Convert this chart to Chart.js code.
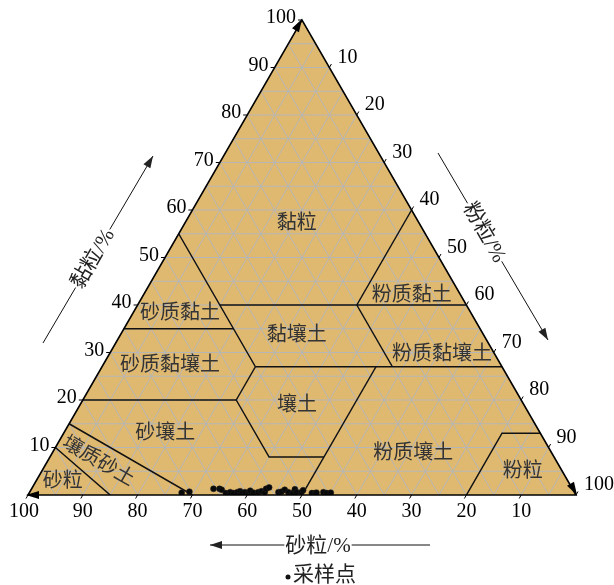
<!DOCTYPE html>
<html>
<head>
<meta charset="utf-8">
<script src="https://cdn.jsdelivr.net/npm/chart.js@4/dist/chart.umd.min.js"></script>
<style>
  html, body { margin: 0; padding: 0; background: #fff; }
  #wrap { width: 614px; height: 585px; }
</style>
</head>
<body>
<div id="wrap"><canvas id="c"></canvas></div>
<script>
// Soil texture triangle: clay on the left edge, silt on the right edge, sand along the base.
// Every composition is [sand, silt, clay] in percent.

const tickValues = [10, 20, 30, 40, 50, 60, 70, 80, 90, 100];

// Sample points (percent)
const sampleSand = [71.7, 70.2, 65.5, 64.4, 64.1, 63.7, 62.8, 62.3, 61.5, 60.9, 60.8, 60.1, 59.5, 59.0, 58.6, 57.7, 57.0, 56.5, 55.9, 55.2, 54.0, 53.4, 52.6, 52.2, 51.5, 50.7, 50.7, 49.8, 49.3, 48.0, 47.4, 47.1, 45.8, 45.3, 44.5];
const sampleSilt = [27.8, 29.1, 33.2, 34.3, 34.8, 35.9, 36.6, 37.3, 37.9, 38.3, 38.8, 39.3, 40.0, 40.1, 40.9, 41.7, 42.2, 42.9, 42.8, 43.2, 45.4, 45.9, 46.3, 47.2, 48.1, 48.1, 48.7, 49.6, 49.7, 51.6, 52.2, 52.4, 53.6, 54.3, 55.0];
const sampleClay = [0.5, 0.7, 1.3, 1.3, 1.1, 0.4, 0.6, 0.4, 0.6, 0.8, 0.4, 0.6, 0.5, 0.9, 0.5, 0.6, 0.8, 0.6, 1.3, 1.6, 0.6, 0.7, 1.1, 0.6, 0.4, 1.2, 0.6, 0.6, 1.0, 0.4, 0.4, 0.5, 0.6, 0.4, 0.5];

// Texture class boundaries, [sand, silt, clay]
const sand45Line   = [[45, 0, 55], [45, 15, 40], [45, 28, 27]];
const clay40Line   = [[45, 15, 40], [0, 60, 40]];
const silt40Line   = [[0, 40, 60], [20, 40, 40]];
const clay35Line   = [[65, 0, 35], [45, 20, 35]];
const sand20Line   = [[20, 40, 40], [20, 53, 27]];
const clay27Line   = [[45, 28, 27], [0, 73, 27]];
const silt28Line   = [[45, 28, 27], [52, 28, 20]];
const clay20Line   = [[80, 0, 20], [52, 28, 20]];
const loamBottom   = [[52, 28, 20], [52, 40, 8], [42, 50, 8]];
const silt50Line   = [[23, 50, 27], [50, 50, 0]];
const loamySandLine = [[85, 0, 15], [70, 30, 0]];
const sandLine     = [[90, 0, 10], [85, 15, 0]];
const siltBox      = [[20, 80, 0], [7, 80, 13], [0, 87, 13]];
const boundaryLines = [sand45Line, clay40Line, silt40Line, clay35Line, sand20Line, clay27Line,
  silt28Line, clay20Line, loamBottom, silt50Line, loamySandLine, sandLine, siltBox];

// Class names with their anchor composition [sand, silt, clay]
const classNames = ['黏粒', '粉质黏土', '砂质黏土', '黏壤土', '粉质黏壤土', '砂质黏壤土', '壤土', '砂壤土', '粉质壤土', '粉粒', '壤质砂土', '砂粒'];
const classAnchors = [[22.4, 20.5, 57.1], [9, 49.1, 41.9], [53.2, 8.7, 38.1], [34.2, 32.3, 33.5], [9.7, 60.8, 29.5], [60.5, 12.3, 27.2],
  [41.5, 39.7, 18.8], [68.5, 18.6, 12.9], [25.4, 66, 8.6], [7.3, 87.9, 4.8], [83.7, 9.3, 7], [92.3, 5, 2.7]];
const classAngles = [0, 0, 0, 0, 0, 0, 0, 0, 0, 0, 30, 0];

const axisTitles = ['黏粒/%', '粉粒/%', '砂粒/%'];
const legendLabel = '采样点';

// ternary composition -> scale values (x = silt + clay/2, y = clay)
function toXY(sand, silt, clay) { return { x: silt + clay / 2, y: clay }; }

const FILL = 'rgb(224,185,113)';
const GRID = 'rgb(182,182,182)';
const LINE = '#111';
const NUM_FONT = "20px 'Liberation Serif', 'Times New Roman', serif";
const CJK_FONT = "20px 'Liberation Serif', 'Noto Sans CJK SC', serif";
const TITLE_FONT = "21px 'Liberation Serif', 'Noto Sans CJK SC', serif";

const datasets = boundaryLines.map(seg => ({
  type: 'line',
  data: seg.map(p => toXY(p[0], p[1], p[2])),
  borderColor: LINE,
  borderWidth: 1.5,
  pointRadius: 0,
  fill: false,
  tension: 0,
  order: 2
}));
datasets.push({
  type: 'scatter',
  label: legendLabel,
  data: sampleSand.map((s, i) => toXY(s, sampleSilt[i], sampleClay[i])),
  backgroundColor: '#0a0a0a',
  borderColor: '#222',
  borderWidth: 0.5,
  pointRadius: 3,
  order: 1
});

function px(chart, sand, silt, clay) {
  const p = toXY(sand, silt, clay);
  return [chart.scales.x.getPixelForValue(p.x), chart.scales.y.getPixelForValue(p.y)];
}

function arrowHead(ctx, tx, ty, dx, dy, len, half) {
  const l = Math.hypot(dx, dy); dx /= l; dy /= l;
  const bx = tx - dx * len, by = ty - dy * len;
  ctx.beginPath();
  ctx.moveTo(tx, ty);
  ctx.lineTo(bx - dy * half, by + dx * half);
  ctx.lineTo(bx + dy * half, by - dx * half);
  ctx.closePath();
  ctx.fill();
}

const ternaryPlugin = {
  id: 'ternary',
  beforeDatasetsDraw(chart) {
    const ctx = chart.ctx;
    const A = px(chart, 100, 0, 0), B = px(chart, 0, 100, 0), C = px(chart, 0, 0, 100);
    ctx.save();
    ctx.fillStyle = FILL;
    ctx.beginPath();
    ctx.moveTo(A[0], A[1]); ctx.lineTo(B[0], B[1]); ctx.lineTo(C[0], C[1]); ctx.closePath();
    ctx.fill();
    // grid every 5 %
    ctx.strokeStyle = GRID;
    ctx.lineWidth = 1;
    for (let v = 5; v < 100; v += 5) {
      const segs = [
        [px(chart, 100 - v, 0, v), px(chart, 0, 100 - v, v)],
        [px(chart, v, 0, 100 - v), px(chart, v, 100 - v, 0)],
        [px(chart, 0, v, 100 - v), px(chart, 100 - v, v, 0)]
      ];
      segs.forEach(s => {
        ctx.beginPath();
        ctx.moveTo(s[0][0], s[0][1]);
        ctx.lineTo(s[1][0], s[1][1]);
        ctx.stroke();
      });
    }
    ctx.restore();
  },
  afterDatasetsDraw(chart) {
    const ctx = chart.ctx;
    const A = px(chart, 100, 0, 0), B = px(chart, 0, 100, 0), C = px(chart, 0, 0, 100);
    ctx.save();
    // triangle edges
    ctx.strokeStyle = '#000';
    ctx.lineWidth = 1.6;
    ctx.beginPath();
    ctx.moveTo(A[0], A[1]); ctx.lineTo(B[0], B[1]); ctx.lineTo(C[0], C[1]); ctx.closePath();
    ctx.stroke();
    ctx.fillStyle = '#000';
    arrowHead(ctx, C[0], C[1] - 1, C[0] - A[0], C[1] - A[1], 13, 4);
    arrowHead(ctx, B[0] + 1, B[1], B[0] - C[0], B[1] - C[1], 13, 4);
    arrowHead(ctx, A[0] - 2, A[1], A[0] - B[0], 0, 13, 4);

    // tick marks and labels
    ctx.lineWidth = 1;
    ctx.font = NUM_FONT;
    ctx.fillStyle = '#000';
    tickValues.forEach(v => {
      // clay (left edge)
      let p = px(chart, 100 - v, 0, v);
      ctx.beginPath(); ctx.moveTo(p[0], p[1]); ctx.lineTo(p[0] - 4, p[1]); ctx.stroke();
      ctx.textAlign = 'right'; ctx.textBaseline = 'middle';
      ctx.fillText(String(v), p[0] - 6, p[1] - 2);
      // silt (right edge)
      p = px(chart, 0, v, 100 - v);
      ctx.beginPath(); ctx.moveTo(p[0], p[1]); ctx.lineTo(p[0] + 2, p[1] - 3.5); ctx.stroke();
      ctx.textAlign = 'left';
      ctx.fillText(String(v), p[0] + 8, p[1] - 10);
      // sand (base)
      p = px(chart, v, 100 - v, 0);
      ctx.beginPath(); ctx.moveTo(p[0], p[1]); ctx.lineTo(p[0] - 2, p[1] + 3.5); ctx.stroke();
      ctx.textAlign = 'center';
      ctx.fillText(String(v), p[0] - (v === 100 ? 4 : 0), p[1] + 17);
    });

    // class names
    ctx.font = CJK_FONT;
    ctx.fillStyle = '#333';
    ctx.textAlign = 'center';
    ctx.textBaseline = 'middle';
    classNames.forEach((name, i) => {
      const a = classAnchors[i];
      const p = px(chart, a[0], a[1], a[2]);
      ctx.save();
      ctx.translate(p[0], p[1]);
      ctx.rotate(classAngles[i] * Math.PI / 180);
      ctx.fillText(name, 0, 0);
      ctx.restore();
    });

    // axis titles with arrows
    ctx.font = TITLE_FONT;
    ctx.fillStyle = '#222';
    ctx.strokeStyle = '#111';
    const titled = (x0, y0, x1, y1, tc, text, angle, arrowAtEnd) => {
      const L = Math.hypot(x1 - x0, y1 - y0);
      const ux = (x1 - x0) / L, uy = (y1 - y0) / L;
      const half = ctx.measureText(text).width / 2 + 1;
      ctx.beginPath();
      ctx.moveTo(x0, y0); ctx.lineTo(x0 + ux * (tc - half), y0 + uy * (tc - half));
      ctx.moveTo(x0 + ux * (tc + half), y0 + uy * (tc + half)); ctx.lineTo(x1, y1);
      ctx.stroke();
      if (arrowAtEnd) arrowHead(ctx, x1, y1, ux, uy, 12, 4);
      else arrowHead(ctx, x0, y0, -ux, -uy, 12, 4);
      ctx.save();
      ctx.translate(x0 + ux * tc, y0 + uy * tc);
      ctx.rotate(angle);
      ctx.fillStyle = '#222';
      ctx.textAlign = 'center'; ctx.textBaseline = 'middle';
      ctx.fillText(text, 0, 1);
      ctx.restore();
    };
    titled(43, 343, 153, 156, 98, axisTitles[0], -Math.PI / 3, true);
    titled(438, 153, 548, 340, 92, axisTitles[1], Math.PI / 3, true);
    titled(210, 545, 430, 545, 108, axisTitles[2], 0, false);

    // legend
    ctx.fillStyle = '#111';
    ctx.beginPath(); ctx.arc(288, 577, 2.5, 0, Math.PI * 2); ctx.fill();
    ctx.font = TITLE_FONT;
    ctx.fillStyle = '#222';
    ctx.textAlign = 'left'; ctx.textBaseline = 'middle';
    ctx.fillText(legendLabel, 293, 575);
    ctx.restore();
  }
};

new Chart(document.getElementById('c'), {
  type: 'scatter',
  data: { datasets },
  options: {
    responsive: true,
    maintainAspectRatio: false,
    animation: false,
    layout: { padding: { left: 28, right: 38, top: 20, bottom: 90 } },
    scales: {
      x: { type: 'linear', min: 0, max: 100, display: false },
      y: { type: 'linear', min: 0, max: 100, display: false }
    },
    plugins: { legend: { display: false }, tooltip: { enabled: false } }
  },
  plugins: [ternaryPlugin]
});
</script>
</body>
</html>
